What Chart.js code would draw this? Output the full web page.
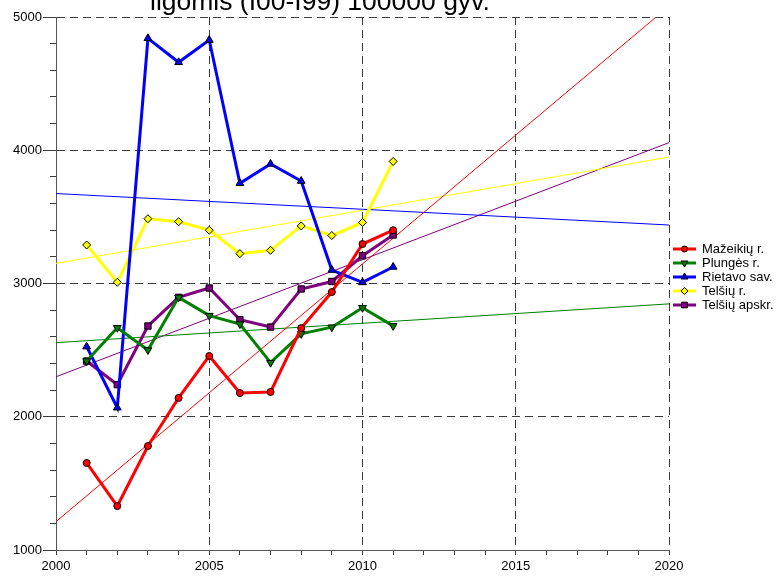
<!DOCTYPE html>
<html>
<head>
<meta charset="utf-8">
<script src="https://cdn.jsdelivr.net/npm/chart.js@4/dist/chart.umd.min.js"></script>
<style>
  html, body { margin: 0; padding: 0; background: #fff; }
  #wrap { position: relative; width: 777px; height: 577px; }
</style>
</head>
<body>
<div id="wrap"><canvas id="trendChart"></canvas></div>
<script>
// Mirtingumas 100000 gyv., Telšių apskritis, 2001-2011
// Values

var titleText = "ligomis (I00-I99) 100000 gyv.";

var years = [2001, 2002, 2003, 2004, 2005, 2006, 2007, 2008, 2009, 2010, 2011];

var mazeikiai   = [1653, 1330, 1780, 2141, 2456, 2178, 2186, 2665, 2936, 3296, 3400];
var plunge      = [2418, 2668, 2501, 2896, 2759, 2696, 2406, 2622, 2672, 2818, 2682];
var rietavas    = [2526, 2068, 4840, 4660, 4827, 3752, 3897, 3769, 3101, 3008, 3124];
var telsiaiR    = [3289, 3009, 3486, 3464, 3400, 3224, 3249, 3432, 3360, 3458, 3916];
var telsiuApskr = [2418, 2241, 2681, 2896, 2966, 2728, 2673, 2959, 3015, 3208, 3364];

// trend lines: value at the start and end year
var trendYears       = [2000, 2020];
var trendMazeikiai   = [1213, 5081];
var trendPlunge      = [2556, 2847];
var trendRietavas    = [3675, 3439];
var trendTelsiaiR    = [3151, 3949];
var trendTelsiuApskr = [2300, 4057];

var seriesNames  = ["Mažeikių r.", "Plungės r.", "Rietavo sav.", "Telšių r.", "Telšių apskr."];
var seriesColors = ["#ff0000", "#008000", "#0000ff", "#ffff00", "#800080"];
var pointStyles  = ["circle", "triangle", "triangle", "rectRot", "rect"];
var pointRotations = [0, 180, 0, 0, 0];
var pointRadii   = [3.5, 4.5, 4.5, 4, 4.5];

var xTickLabels = [2000, 2005, 2010, 2015, 2020];
var yTickLabels = [1000, 2000, 3000, 4000, 5000];

var font = "'Liberation Sans', Arial, sans-serif";

function toPoints(xs, ys) {
  return xs.map(function (x, i) { return { x: x, y: ys[i] }; });
}

var seriesData = [mazeikiai, plunge, rietavas, telsiaiR, telsiuApskr];
var trendData = [trendMazeikiai, trendPlunge, trendRietavas, trendTelsiaiR, trendTelsiuApskr];

var datasets = [];
seriesData.forEach(function (vals, i) {
  datasets.push({
    label: seriesNames[i],
    data: toPoints(years, vals),
    borderColor: seriesColors[i],
    backgroundColor: seriesColors[i],
    borderWidth: 3,
    pointStyle: pointStyles[i],
    rotation: pointRotations[i],
    pointRadius: pointRadii[i],
    pointBorderColor: "#000",
    pointBorderWidth: 1,
    pointBackgroundColor: seriesColors[i],
    tension: 0
  });
});
trendData.forEach(function (vals, i) {
  datasets.push({
    label: seriesNames[i] + " trend",
    data: toPoints(trendYears, vals),
    borderColor: seriesColors[i],
    borderWidth: 1,
    pointRadius: 0,
    tension: 0
  });
});

// title line (top of the picture) and legend on the right
var decorPlugin = {
  id: "decor",
  beforeDraw: function (chart) {
    var ctx = chart.ctx;
    ctx.save();
    ctx.fillStyle = "#fff";
    ctx.fillRect(0, 0, chart.width, chart.height);
    ctx.restore();
  },
  afterDraw: function (chart) {
    var ctx = chart.ctx;
    ctx.save();
    ctx.fillStyle = "#000";
    ctx.font = "26.5px " + font;
    ctx.textAlign = "left";
    ctx.textBaseline = "alphabetic";
    ctx.fillText(titleText, 150, 10);

    var lx = 673, ly = 249, step = 14;
    ctx.font = "13px " + font;
    ctx.textBaseline = "middle";
    seriesNames.forEach(function (name, i) {
      var y = ly + i * step;
      ctx.strokeStyle = seriesColors[i];
      ctx.lineWidth = 3;
      ctx.beginPath();
      ctx.moveTo(lx, y);
      ctx.lineTo(lx + 23, y);
      ctx.stroke();
      ctx.fillStyle = seriesColors[i];
      ctx.strokeStyle = "#000";
      ctx.lineWidth = 1;
      if (Chart.helpers && Chart.helpers.drawPoint) {
        Chart.helpers.drawPoint(ctx, {
          pointStyle: pointStyles[i],
          rotation: pointRotations[i],
          radius: pointRadii[i] - 0.5,
          borderWidth: 1
        }, lx + 11.5, y);
      }
      ctx.fillStyle = "#000";
      ctx.fillText(name, lx + 29, y + 0.5);
    });
    ctx.restore();
  }
};

var gridColor = "#3a3a3a";

new Chart(document.getElementById("trendChart").getContext("2d"), {
  type: "line",
  data: { datasets: datasets },
  plugins: [decorPlugin],
  options: {
    responsive: true,
    maintainAspectRatio: false,
    animation: false,
    layout: { padding: { top: 17, right: 108, left: 0, bottom: 0 } },
    plugins: {
      legend: { display: false },
      tooltip: { enabled: false }
    },
    scales: {
      x: {
        type: "linear",
        position: "bottom",
        weight: 1,
        min: 2000,
        max: 2020,
        afterBuildTicks: function (scale) {
          scale.ticks = xTickLabels.map(function (v) { return { value: v }; });
        },
        afterFit: function (scale) { scale.height = 27; },
        grid: { color: gridColor, lineWidth: 1, tickLength: 4, tickColor: gridColor },
        border: { display: true, color: "#555", width: 1, dash: [8, 5] },
        ticks: {
          color: "#000",
          font: { family: font, size: 13 },
          padding: 5,
          maxRotation: 0,
          callback: function (v) { return String(v); }
        }
      },
      xMinor: {
        type: "linear",
        position: "bottom",
        weight: 0,
        min: 2000,
        max: 2020,
        afterFit: function (scale) { scale.height = 0; },
        grid: { drawOnChartArea: false, tickLength: 5, tickColor: gridColor },
        border: { display: false },
        ticks: { display: false, stepSize: 1 }
      },
      y: {
        type: "linear",
        position: "left",
        weight: 1,
        min: 1000,
        max: 5000,
        afterBuildTicks: function (scale) {
          scale.ticks = yTickLabels.map(function (v) { return { value: v }; });
        },
        afterFit: function (scale) { scale.width = 56; },
        grid: { color: gridColor, lineWidth: 1, tickLength: 13, tickColor: gridColor },
        border: { display: true, color: "#555", width: 1, dash: [8, 5] },
        ticks: {
          color: "#000",
          font: { family: font, size: 13 },
          padding: 1,
          callback: function (v) { return String(v); }
        }
      },
      yMinor: {
        type: "linear",
        position: "left",
        weight: 0,
        min: 1000,
        max: 5000,
        afterFit: function (scale) { scale.width = 0; },
        grid: { drawOnChartArea: false, tickLength: 6, tickColor: gridColor },
        border: { display: false },
        ticks: { display: false, stepSize: 200 }
      }
    }
  }
});
</script>
</body>
</html>
